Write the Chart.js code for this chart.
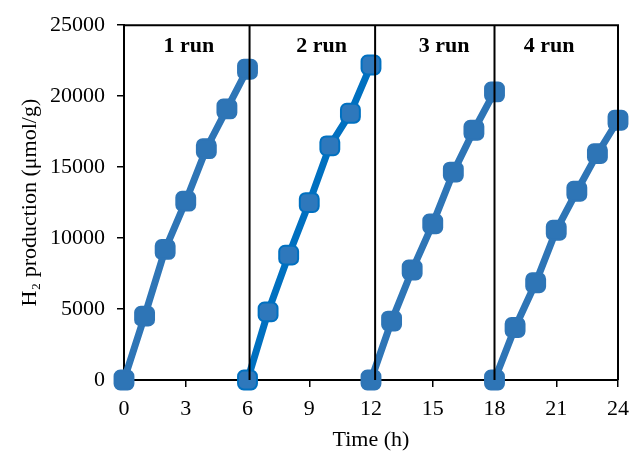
<!DOCTYPE html>
<html>
<head>
<meta charset="utf-8">
<script src="https://cdn.jsdelivr.net/npm/chart.js@4/dist/chart.umd.min.js"></script>
<style>
  html, body { margin: 0; padding: 0; background: #fff; }
  #wrap { width: 639px; height: 455px; }
</style>
</head>
<body>
<div id="wrap"><canvas id="h2Chart"></canvas></div>
<script>
// H2 production over four consecutive runs
const hours = [0, 1, 2, 3, 4, 5, 6, 7, 8, 9, 10, 11, 12, 13, 14, 15, 16, 17, 18, 19, 20, 21, 22, 23, 24];
const run1 = [0, 4500, 9200, 12600, 16300, 19100, 21900];
const run2 = [0, 4800, 8800, 12500, 16500, 18800, 22200];
const run3 = [0, 4150, 7750, 11000, 14650, 17600, 20300];
const run4 = [0, 3700, 6850, 10550, 13300, 15950, 18300];
const runLabels = ['1 run', '2 run', '3 run', '4 run'];
const dividers = [6.1, 12.2, 18];
const xTicks = [0, 3, 6, 9, 12, 15, 18, 21, 24];
const yTicks = [0, 5000, 10000, 15000, 20000, 25000];

const serif = "'Liberation Serif', 'Times New Roman', serif";

function toPoints(values, start) {
    return values.map((v, i) => ({ x: hours[start + i], y: v }));
}

function runSet(values, start, color, fill) {
    return {
        data: toPoints(values, start),
        borderColor: color,
        backgroundColor: fill,
        borderWidth: 7,
        pointStyle: 'rectRounded',
        pointRadius: 11,
        pointBorderWidth: 2,
        pointBorderColor: color,
        pointBackgroundColor: fill,
        clip: false,
        order: 1
    };
}

const datasets = [
    runSet(run1, 0, '#2E75B6', '#2E75B6'),
    runSet(run2, 6, '#0070C0', '#2E78BC'),
    runSet(run3, 12, '#2E75B6', '#2E75B6'),
    runSet(run4, 18, '#2E75B6', '#2E75B6')
];
dividers.forEach(d => {
    datasets.push({
        data: [{ x: d, y: 0 }, { x: d, y: 25000 }],
        borderColor: '#000',
        borderWidth: 2,
        pointRadius: 0,
        order: 0
    });
});

// labels above each run, box around plot
const labelX = [3.15, 9.6, 15.55, 20.65];
const extras = {
    id: 'extras',
    afterDatasetsDraw(chart) {
        const { ctx, chartArea, scales } = chart;
        ctx.save();
        ctx.strokeStyle = '#000';
        ctx.lineWidth = 2;
        ctx.beginPath();
        ctx.moveTo(chartArea.left, chartArea.top);
        ctx.lineTo(chartArea.right, chartArea.top);
        ctx.lineTo(chartArea.right, chartArea.bottom);
        ctx.stroke();
        ctx.fillStyle = '#000';
        ctx.font = 'bold 22px ' + serif;
        ctx.textAlign = 'center';
        ctx.textBaseline = 'middle';
        runLabels.forEach((t, i) => {
            ctx.fillText(t, scales.x.getPixelForValue(labelX[i]), scales.y.getPixelForValue(23500));
        });
        ctx.restore();
    }
};

const ctx = document.getElementById('h2Chart').getContext('2d');
const h2Chart = new Chart(ctx, {
    type: 'line',
    data: { datasets: datasets },
    options: {
        responsive: true,
        maintainAspectRatio: false,
        animation: false,
        layout: { padding: { top: 24, right: 21, left: 0, bottom: 0 } },
        plugins: { legend: { display: false }, tooltip: { enabled: false } },
        scales: {
            x: {
                type: 'linear',
                min: 0,
                max: 24,
                afterBuildTicks: s => { s.ticks = xTicks.map(v => ({ value: v })); },
                afterFit: s => { s.height = 75; },
                border: { color: '#000', width: 2 },
                grid: { drawOnChartArea: false, color: '#000', tickLength: 7, lineWidth: 1.5 },
                ticks: { color: '#000', padding: 9, font: { family: serif, size: 22 }, callback: v => String(v) },
                title: { display: true, text: 'Time (h)', color: '#000', padding: { top: 0, bottom: 2 }, font: { family: serif, size: 22 } }
            },
            y: {
                min: 0,
                max: 25000,
                afterBuildTicks: s => { s.ticks = yTicks.map(v => ({ value: v })); },
                afterFit: s => { s.width = 124; },
                border: { color: '#000', width: 2 },
                grid: { drawOnChartArea: false, color: '#000', tickLength: 7, lineWidth: 1.5 },
                ticks: { color: '#000', padding: 12, font: { family: serif, size: 22 }, callback: v => String(v) },
                title: { display: true, text: 'H\u2082 production (\u03bcmol/g)', color: '#000', padding: { top: 17, bottom: 0 }, font: { family: serif, size: 22 } }
            }
        }
    },
    plugins: [extras]
});
</script>
</body>
</html>
